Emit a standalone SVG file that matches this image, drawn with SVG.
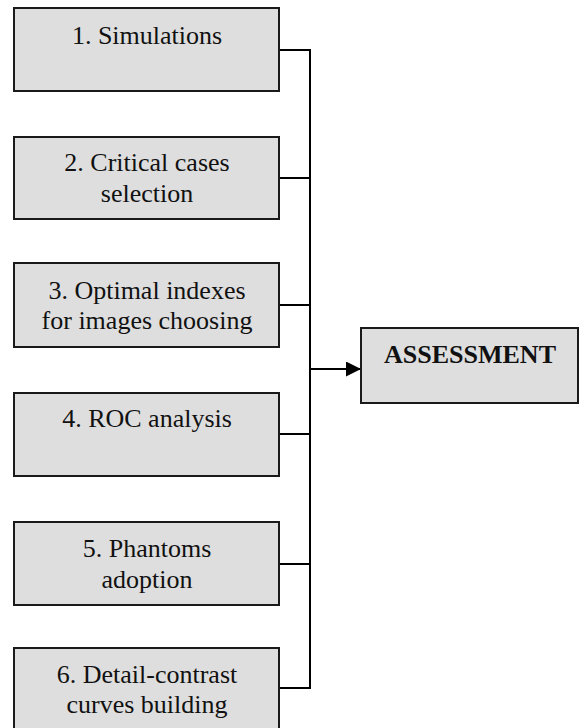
<svg xmlns="http://www.w3.org/2000/svg" width="580" height="728" viewBox="0 0 580 728">
<style>
.box{fill:#dedede;stroke:#1a1a1a;stroke-width:2}
.t{font-family:"Liberation Serif","Times New Roman",serif;font-size:26px;fill:#111;text-anchor:middle}
.b{font-weight:bold}
.ln{stroke:#000;stroke-width:2;fill:none}
</style>
<defs>
<marker id="ah" markerWidth="15" markerHeight="15" refX="15" refY="7.5" orient="auto" markerUnits="userSpaceOnUse">
<path d="M0,0 L15,7.5 L0,15 Z" fill="#000"/>
</marker>
</defs>
<rect width="580" height="728" fill="#fff"/>
<g id="connectors">
<path class="ln" d="M279,50 H310 M279,178 H310 M279,305 H310 M279,434 H310 M279,564 H310 M279,688 H310 M310,49 V689"/>
<path class="ln" d="M310,369 H361" marker-end="url(#ah)"/>
</g>
<g id="n1"><rect class="box" x="14" y="8" width="265" height="83"/><text class="t" x="147" y="44">1. Simulations</text></g>
<g id="n2"><rect class="box" x="14" y="137" width="265" height="82"/><text class="t" x="147" y="171">2. Critical cases</text><text class="t" x="147" y="202">selection</text></g>
<g id="n3"><rect class="box" x="14" y="263" width="265" height="84"/><text class="t" x="147" y="299">3. Optimal indexes</text><text class="t" x="147" y="329">for images choosing</text></g>
<g id="n4"><rect class="box" x="14" y="393" width="265" height="83"/><text class="t" x="147" y="427">4. ROC analysis</text></g>
<g id="n5"><rect class="box" x="14" y="522" width="265" height="83"/><text class="t" x="147" y="557">5. Phantoms</text><text class="t" x="147" y="588">adoption</text></g>
<g id="n6"><rect class="box" x="14" y="648" width="265" height="83"/><text class="t" x="147" y="683">6. Detail-contrast</text><text class="t" x="147" y="713">curves building</text></g>
<g id="assessment"><rect class="box" x="361" y="328" width="217" height="75"/><text class="t b" x="470" y="363">ASSESSMENT</text></g>
</svg>
